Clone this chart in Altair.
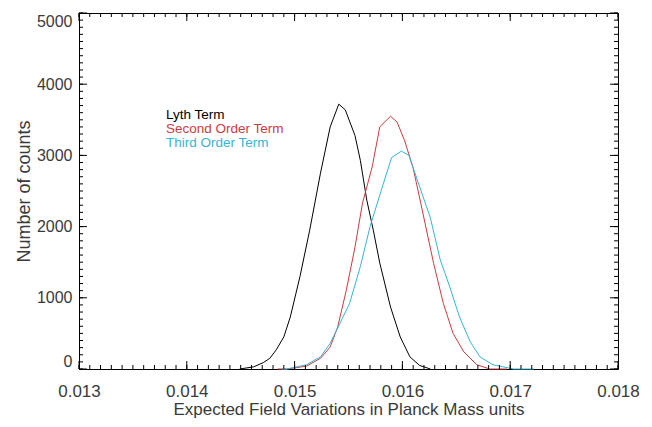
import altair as alt
import pandas as pd

# ---- data ----
series_names = ["Lyth Term", "Second Order Term", "Third Order Term"]
series_colors = ["#000000", "#cc3b3f", "#38b4d4"]

lyth_x = [0.01449, 0.01462, 0.01471, 0.01477, 0.01483, 0.01490, 0.01496, 0.01505,
          0.01514, 0.01524, 0.01533, 0.01541, 0.01547, 0.01556, 0.01561, 0.01567,
          0.01573, 0.01579, 0.01589, 0.01598, 0.01607, 0.01616, 0.01626]
lyth_y = [0, 30, 90, 150, 270, 450, 730, 1300, 1950, 2750, 3400, 3720, 3640, 3280,
          2930, 2370, 1950, 1490, 870, 450, 170, 50, 0]

second_x = [0.01484, 0.01493, 0.01511, 0.01524, 0.01533, 0.01540, 0.01548, 0.01556,
            0.01563, 0.01572, 0.01579, 0.01589, 0.01595, 0.01602, 0.01610, 0.01618,
            0.01629, 0.01638, 0.01647, 0.01657, 0.01669, 0.01681, 0.01697]
second_y = [0, 0, 40, 150, 310, 590, 1110, 1710, 2330, 2840, 3400, 3550, 3470, 3210,
            2820, 2260, 1480, 920, 500, 240, 60, 0, 0]

third_x = [0.01488, 0.01493, 0.01511, 0.01524, 0.01533, 0.01542, 0.01551, 0.01561,
           0.01570, 0.01580, 0.01590, 0.01599, 0.01606, 0.01616, 0.01626, 0.01635,
           0.01644, 0.01653, 0.01663, 0.01672, 0.01684, 0.01703, 0.01722]
third_y = [0, 0, 60, 170, 360, 640, 920, 1440, 2000, 2490, 2970, 3060, 3000, 2560,
           2120, 1540, 1150, 730, 380, 170, 60, 0, 0]

legend_x = [0.013807, 0.013807, 0.013807]
legend_y = [3508, 3312, 3115]

x_major = [0.013, 0.014, 0.015, 0.016, 0.017, 0.018]
x_minor = [round(0.013 + i * 0.0001, 4) for i in range(51)]
y_major = [0, 1000, 2000, 3000, 4000, 5000]
y_minor = list(range(0, 5001, 100))

rows = []
for name, xs, ys in [(series_names[0], lyth_x, lyth_y),
                     (series_names[1], second_x, second_y),
                     (series_names[2], third_x, third_y)]:
    for xv, yv in zip(xs, ys):
        rows.append({"series": name, "x": xv, "y": yv})
df = pd.DataFrame(rows)
legend_df = pd.DataFrame({"x": legend_x, "y": legend_y, "label": series_names})

W, H = 539, 356
FONT = "Liberation Sans"
TXT = "#3a3a3a"

xscale = alt.Scale(domain=[0.013, 0.018], nice=False, zero=False)
yscale = alt.Scale(domain=[0, 5000], nice=False, zero=False)
cscale = alt.Scale(domain=series_names, range=series_colors)

lines = alt.Chart(df).mark_line(strokeWidth=1).encode(
    x=alt.X("x:Q", scale=xscale, axis=alt.Axis(
        orient="bottom", values=x_major, format=".3f", ticks=False,
        domain=False, grid=False, labelPadding=14,
        labelFontSize=17, labelFont=FONT, labelColor=TXT, labelFlush=False,
        title="Expected Field Variations in Planck Mass units",
        titleFont=FONT, titleFontSize=17, titleFontWeight="normal",
        titleColor=TXT, titlePadding=2)),
    y=alt.Y("y:Q", scale=yscale, axis=alt.Axis(
        orient="left", values=y_major, format="d", ticks=False,
        domain=False, grid=False, labelPadding=7,
        labelFontSize=16, labelFont=FONT, labelColor=TXT, labelFlush=True,
        title="Number of counts", titleFont=FONT, titleFontSize=18,
        titleFontWeight="normal", titleColor=TXT, titlePadding=3)),
    color=alt.Color("series:N", scale=cscale, legend=None),
    detail="series:N",
)


def xticks(values, y0, y1):
    d = pd.DataFrame({"v": values})
    return alt.Chart(d).mark_rule(color="black", strokeWidth=1).encode(
        x=alt.X("v:Q", scale=xscale, axis=None),
        y=alt.value(y0), y2=alt.value(y1))


def yticks(values, x0, x1):
    d = pd.DataFrame({"v": values})
    return alt.Chart(d).mark_rule(color="black", strokeWidth=1).encode(
        y=alt.Y("v:Q", scale=yscale, axis=None),
        x=alt.value(x0), x2=alt.value(x1))


tick_layers = [
    xticks(x_major, H, H - 8), xticks(x_minor, H, H - 4),
    xticks(x_major, 0, 8), xticks(x_minor, 0, 4),
    yticks(y_major, 0, 8), yticks(y_minor, 0, 4),
    yticks(y_major, W, W - 8), yticks(y_minor, W, W - 4),
]

labels = alt.Chart(legend_df).mark_text(
    align="left", baseline="alphabetic", font=FONT, fontSize=13.5
).encode(
    x=alt.X("x:Q", scale=xscale, axis=None),
    y=alt.Y("y:Q", scale=yscale, axis=None),
    text="label:N",
    color=alt.Color("label:N", scale=cscale, legend=None),
)

chart = alt.layer(lines, *tick_layers, labels).resolve_axis(
    x="independent", y="independent"
).properties(
    width=W, height=H,
    autosize=alt.AutoSizeParams(type="none"),
    padding={"left": 71, "top": 5, "right": 26, "bottom": 50},
    background="white",
).configure_view(stroke="black", strokeWidth=1)

chart.save("out.html", embed_options={"renderer": "svg", "actions": False})
